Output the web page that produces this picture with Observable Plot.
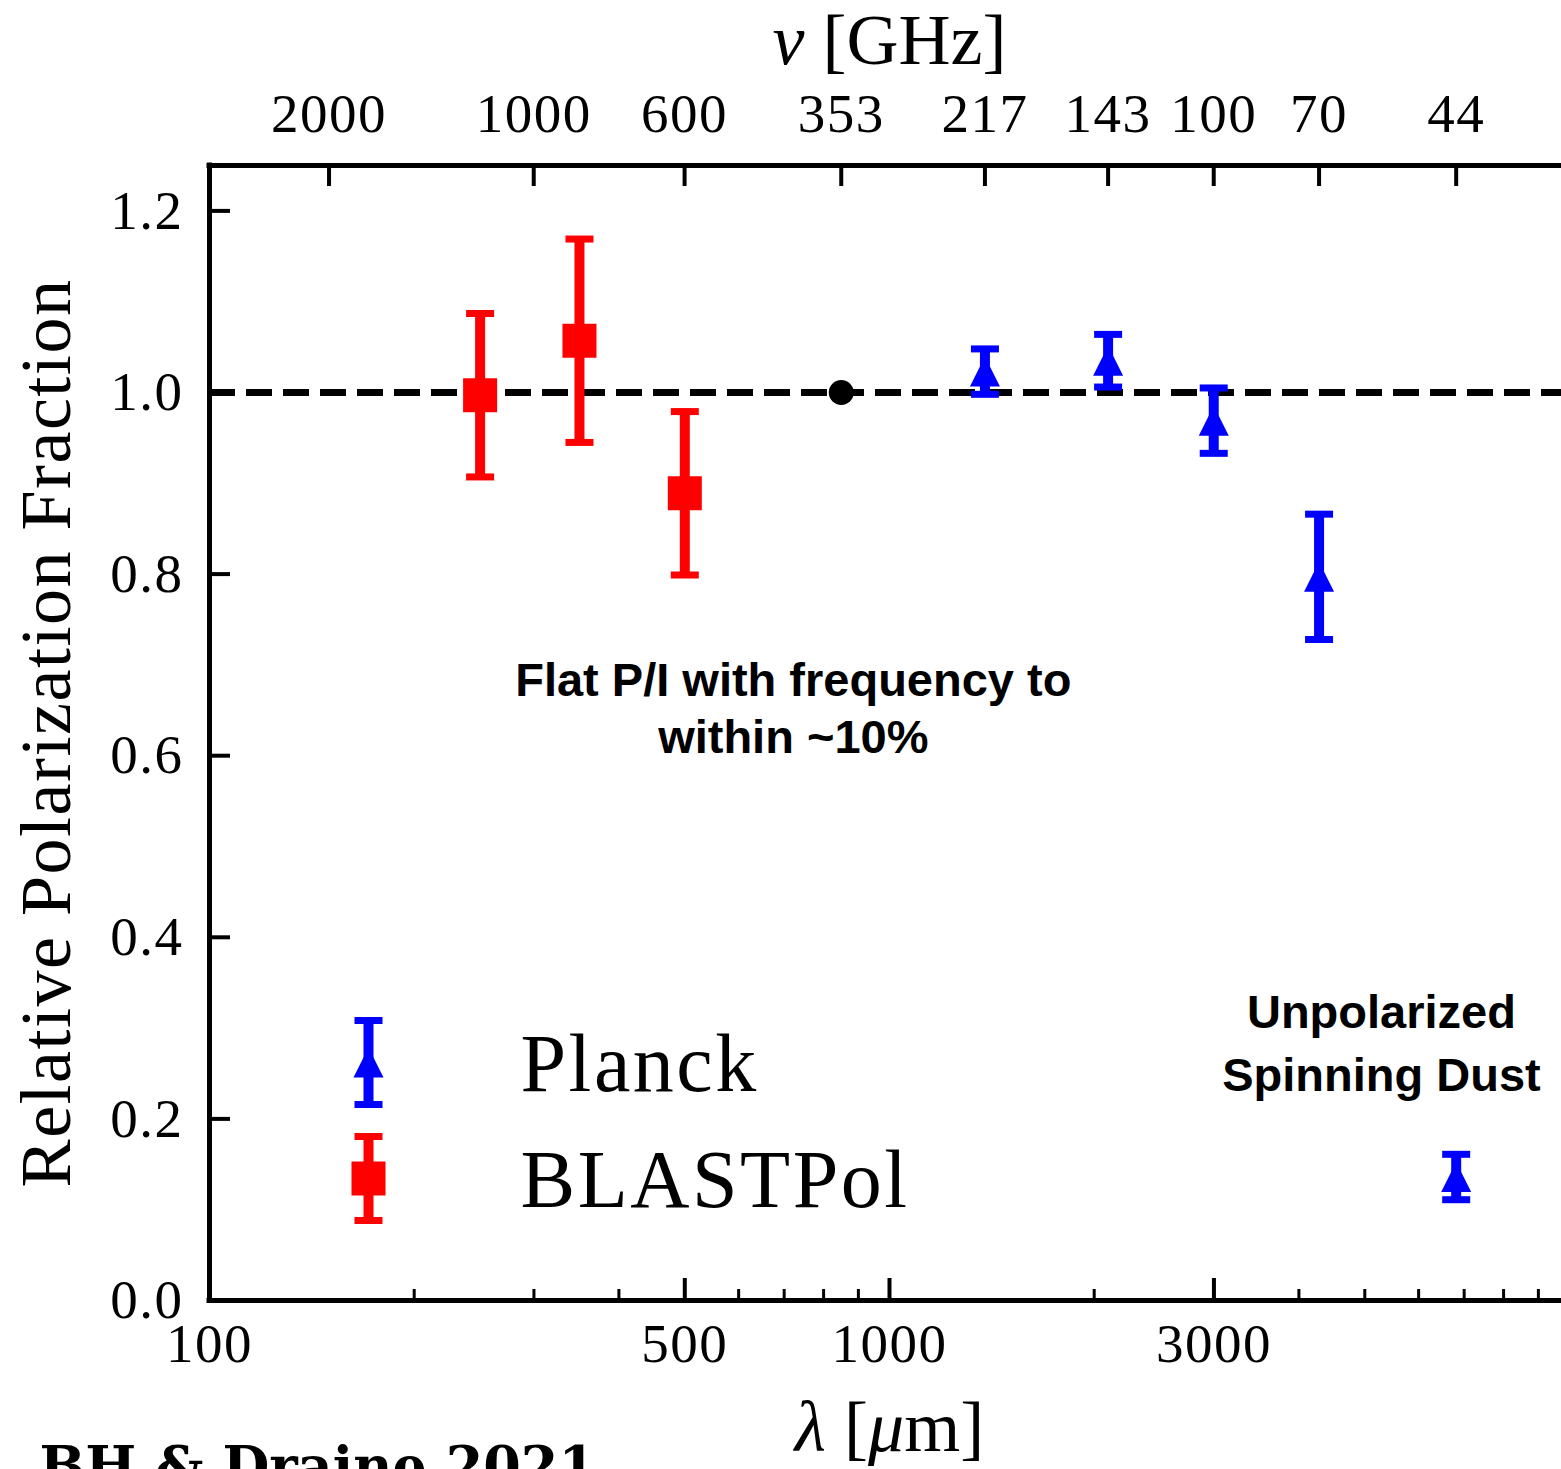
<!DOCTYPE html>
<html><head><meta charset="utf-8">
<script src="https://cdn.jsdelivr.net/npm/d3@7"></script>
<script src="https://cdn.jsdelivr.net/npm/@observablehq/plot@0.6"></script>
<style>html,body{margin:0;padding:0;background:#fff;overflow:hidden;}</style>
</head><body><div id="chart"></div>
<script>
// ---------- data ----------
const C_UM_GHZ = 299792.458; // lambda[um] = C / nu[GHz]
const blastLambda = [250, 350, 500];
const blastFrac   = [0.997, 1.057, 0.889];
const blastErr    = [0.090, 0.112, 0.090];
const planckFreq  = [217, 143, 100, 70, 44];
const planckFrac  = [1.023, 1.035, 0.969, 0.797, 0.136];
const planckErr   = [0.025, 0.029, 0.036, 0.069, 0.025];
const refFreq = [353];
const refFrac = [1.0];
const topTickFreqs = [2000, 1000, 600, 353, 217, 143, 100, 70, 44];
const bottomMajor  = [500, 1000, 3000];
const bottomMinor  = [200, 300, 400, 600, 700, 800, 900, 2000, 4000, 5000, 6000, 7000, 8000, 9000];
const bottomLabels = [100, 500, 1000, 3000];
const yTicks = [0, 0.2, 0.4, 0.6, 0.8, 1.0, 1.2];
const legendNames = ["Planck", "BLASTPol"];
const note1 = {text: "Flat P/I with frequency to\nwithin ~10%", lambda: 722, frac: 0.654};
const note2 = {text: "Unpolarized\nSpinning Dust", lambda: 5290, frac: 0.288};
const caption = "BH & Draine 2021";
const xLabel = "λ [μm]";
const topLabel = "ν [GHz]";
const yLabel = "Relative Polarization Fraction";

// ---------- derived tables ----------
const blast = blastLambda.map((l, i) => ({lambda: l, v: blastFrac[i], e: blastErr[i]}));
const planck = planckFreq.map((f, i) => ({lambda: C_UM_GHZ / f, v: planckFrac[i], e: planckErr[i]}));
const ref = refFreq.map((f, i) => ({lambda: C_UM_GHZ / f, v: refFrac[i]}));

// ---------- layout ----------
const W = 1561, H = 1469, ML = 209, MT = 165, MB = 169, MR = 0;
const FW = W - ML - MR, FH = H - MT - MB;
const SERIF = "Liberation Serif, Times New Roman, serif";
const SANS = "Liberation Sans, Arial, Helvetica, sans-serif";
const RED = "#ff0000", BLUE = "#0000ff";

// custom marker symbols (pixel geometry)
const triSym = {draw(c) { c.moveTo(0, -15); c.lineTo(15, 15); c.lineTo(-15, 15); c.closePath(); }};
const sqSym  = {draw(c) { c.rect(-17, -17, 34, 34); }};
const capSym = {draw(c) { c.moveTo(-14, 0); c.lineTo(14, 0); }};
const vbarSym = {draw(c) { c.moveTo(0, -42); c.lineTo(0, 42); }};

function errMarks(data, color, sym) {
  return [
    Plot.ruleX(data, {x: "lambda", y1: d => d.v - d.e, y2: d => d.v + d.e, stroke: color, strokeWidth: 10}),
    Plot.dot(data, {x: "lambda", y: d => d.v + d.e, symbol: capSym, stroke: color, strokeWidth: 7, fill: "none"}),
    Plot.dot(data, {x: "lambda", y: d => d.v - d.e, symbol: capSym, stroke: color, strokeWidth: 7, fill: "none"}),
    Plot.dot(data, {x: "lambda", y: "v", symbol: sym, fill: color, stroke: "none"})
  ];
}

function legendEntry(cy, color, sym, name) {
  const base = {frameAnchor: "bottom-left", dx: 159};
  return [
    Plot.dot([0], {...base, dy: cy, symbol: vbarSym, stroke: color, strokeWidth: 10, fill: "none"}),
    Plot.dot([0], {...base, dy: cy - 42, symbol: capSym, stroke: color, strokeWidth: 7, fill: "none"}),
    Plot.dot([0], {...base, dy: cy + 42, symbol: capSym, stroke: color, strokeWidth: 7, fill: "none"}),
    Plot.dot([0], {...base, dy: cy, symbol: sym, fill: color, stroke: "none"}),
    Plot.text([name], {frameAnchor: "bottom-left", dx: 311, dy: cy + 2, text: d => d,
      textAnchor: "start", lineAnchor: "middle",
      fontSize: 82, fontFamily: SERIF})
  ];
}

const plot = Plot.plot({
  width: W, height: H,
  marginLeft: ML, marginTop: MT, marginBottom: MB, marginRight: MR,
  style: {background: "white", fontFamily: SERIF, overflow: "visible"},
  x: {type: "log", domain: [100, 9733], axis: null},
  y: {domain: [0, 1.25], axis: null},
  marks: [
    Plot.ruleY(refFrac, {stroke: "black", strokeWidth: 7, strokeDasharray: "26,11"}),
    ...errMarks(blast, RED, sqSym),
    ...errMarks(planck, BLUE, triSym),
    Plot.dot(ref, {x: "lambda", y: "v", r: 12.5, fill: "black"}),

    // annotations
    Plot.text([note1], {x: "lambda", y: "frac", text: "text", fontSize: 47, fontWeight: "bold",
      fontFamily: SANS, lineHeight: 1.213, lineAnchor: "middle"}),
    Plot.text([note2], {x: "lambda", y: "frac", text: "text", fontSize: 47, fontWeight: "bold",
      fontFamily: SANS, lineHeight: 1.34, lineAnchor: "middle"}),

    // legend
    ...legendEntry(-238, BLUE, triSym, legendNames[0]),
    ...legendEntry(-122, RED, sqSym, legendNames[1]),

    // ticks (inward)
    Plot.tickX(bottomMajor, {x: d => d, insetTop: FH - 22, strokeWidth: 4}),
    Plot.tickX(bottomMinor, {x: d => d, insetTop: FH - 11, strokeWidth: 3}),
    Plot.tickX(topTickFreqs, {x: f => C_UM_GHZ / f, insetBottom: FH - 21, strokeWidth: 4}),
    Plot.tickY(yTicks, {y: d => d, insetRight: FW - 21, strokeWidth: 4}),

    // spines
    Plot.ruleY([0], {strokeWidth: 5, strokeLinecap: "square"}),
    Plot.ruleY([1.25], {strokeWidth: 5, strokeLinecap: "square"}),
    Plot.ruleX([100], {strokeWidth: 5, strokeLinecap: "square"}),

    // tick labels
    Plot.text(bottomLabels, {x: d => d, frameAnchor: "bottom", dy: 44, text: d => String(d),
      textAnchor: "middle", lineAnchor: "middle", fontSize: 55, fontFamily: SERIF}),
    Plot.text(topTickFreqs, {x: f => C_UM_GHZ / f, frameAnchor: "top", dy: -51, text: d => String(d),
      textAnchor: "middle", lineAnchor: "middle", fontSize: 55, fontFamily: SERIF}),
    Plot.text(yTicks, {y: d => d, frameAnchor: "left", dx: -26, text: d => d.toFixed(1),
      textAnchor: "end", lineAnchor: "middle", fontSize: 55, fontFamily: SERIF}),

    // axis labels
    Plot.text([1000], {x: d => d, frameAnchor: "top", dy: -125, text: () => topLabel,
      textAnchor: "middle", lineAnchor: "middle", fontSize: 72, fontFamily: SERIF}),
    Plot.text([1000], {x: d => d, frameAnchor: "bottom", dy: 127, text: () => xLabel,
      textAnchor: "middle", lineAnchor: "middle", fontSize: 72, fontFamily: SERIF}),
    Plot.text([yLabel], {frameAnchor: "left", dx: -163, rotate: -90, text: d => d,
      textAnchor: "middle", lineAnchor: "middle", fontSize: 72, fontFamily: SERIF}),

    // caption
    Plot.text([caption], {frameAnchor: "bottom-left", dx: -170, dy: 167, text: d => d,
      textAnchor: "start", lineAnchor: "middle",
      fontSize: 54, fontWeight: "bold", fontFamily: "DejaVu Serif, serif"})
  ]
});

document.getElementById("chart").appendChild(plot);

// typographic touches: letter spacing & italic math symbols
const tickLabelSet = new Set([
  ...bottomLabels.map(String), ...topTickFreqs.map(String), ...yTicks.map(d => d.toFixed(1))
]);
d3.select(plot).selectAll("text").each(function () {
  const t = this.textContent;
  if (tickLabelSet.has(t)) this.style.letterSpacing = "1.5px";
  else if (t === yLabel) this.style.letterSpacing = "1.5px";
  else if (legendNames.includes(t)) this.style.letterSpacing = "2.5px";
  else if (t === topLabel) this.innerHTML = '<tspan font-style="italic">ν</tspan> [GHz]';
  else if (t === xLabel) this.innerHTML = '<tspan font-style="italic">λ</tspan> [<tspan font-style="italic">μ</tspan>m]';
});
</script>
</body></html>
